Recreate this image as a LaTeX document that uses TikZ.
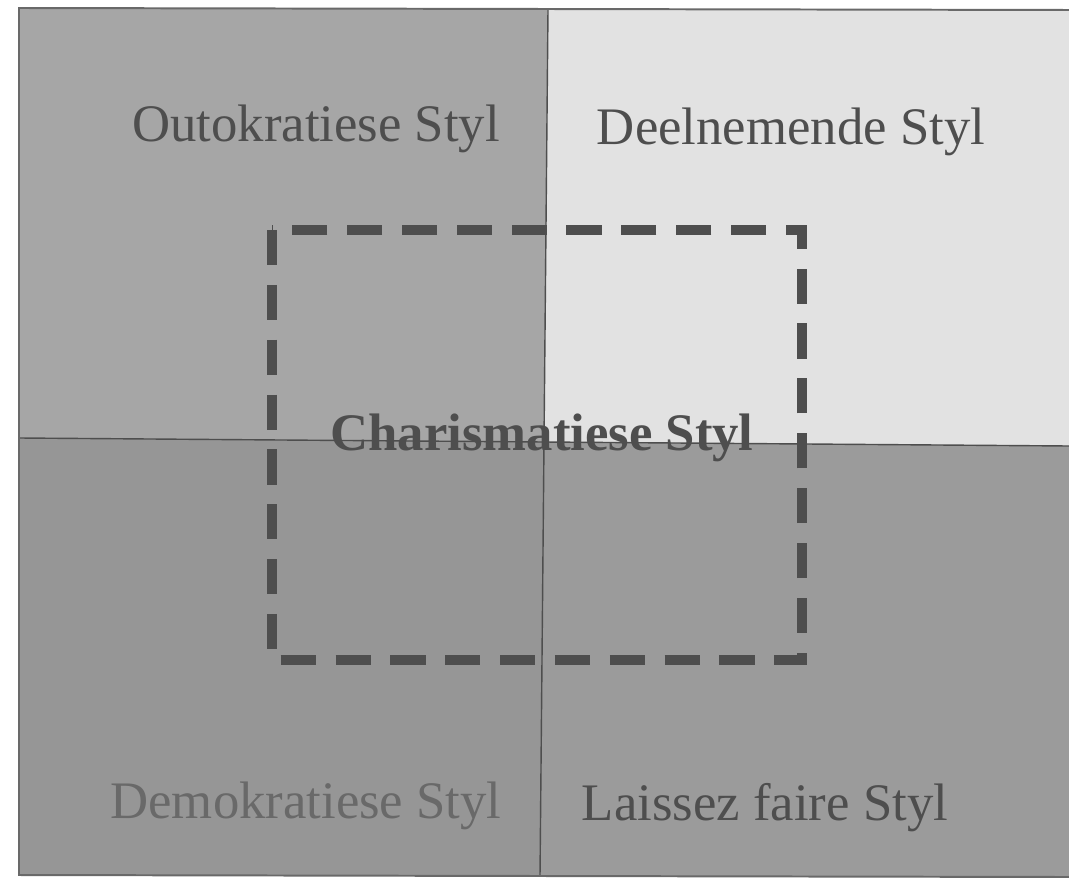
\documentclass[tikz,border=0pt]{standalone}
\usepackage{fontspec}
\setmainfont{Liberation Serif}
\usepackage{tikz}
\usetikzlibrary{positioning,calc}
\definecolor{quadTL}{RGB}{166,166,166}
\definecolor{quadTR}{RGB}{226,226,226}
\definecolor{quadBL}{RGB}{150,150,150}
\definecolor{quadBR}{RGB}{155,155,155}
\definecolor{inkgray}{RGB}{78,78,78}

\begin{document}
\begin{tikzpicture} [
  x=0.025cm, y=-0.025cm,
  style label/.style= {anchor=base,inner sep=0,text=inkgray,font=\fontsize{37.5}{44}\selectfont},
  divider/.style= {draw=inkgray,line width=1pt},
  dash box/.style= {draw=inkgray,line width=7pt,dash pattern=on 25pt off 14pt}
]
\useasboundingbox (0,0) rectangle (1069,879);
% corners and divider ends
\coordinate (TL) at (19,8);
\coordinate (TR) at (1069,10);
\coordinate (BR) at (1069,877);
\coordinate (BL) at (19,875);
\coordinate (T) at (548,9);
\coordinate (B) at (540,876);
\coordinate (L) at (19,438);
\coordinate (R) at (1069,446);
\coordinate (C) at (544,442);
% quadrants
\fill [quadTL] (TL) -- (T) -- (C) -- (L) -- cycle;
\fill [quadTR] (T) -- (TR) -- (R) -- (C) -- cycle;
\fill [quadBL] (L) -- (C) -- (B) -- (BL) -- cycle;
\fill [quadBR] (C) -- (R) -- (BR) -- (B) -- cycle;
\draw [divider] (T) -- (C) -- (B);
\draw [divider] (L) -- (C) -- (R);
\draw [draw=inkgray!85,line width=1.4pt] (TR) -- (TL) -- (BL) -- (BR);
% charisma frame
\coordinate (D1) at (272,230);
\coordinate (D2) at (802,660);
\draw [dash box] (D1) rectangle (D2);
% labels
\node (auto) [style label] at (316,142) {Outokratiese Styl};
\node (part) [style label] at (791,145) {Deelnemende Styl};
\node (demo) [style label,text=inkgray!85] at (306,818) {Demokratiese Styl};
\node (lais) [style label] at (765,820) {Laissez faire Styl};
\node (char) [style label,font=\fontsize{37.5}{44}\selectfont\bfseries] at (542,450) {Charismatiese Styl};
\end{tikzpicture}
\end{document}
